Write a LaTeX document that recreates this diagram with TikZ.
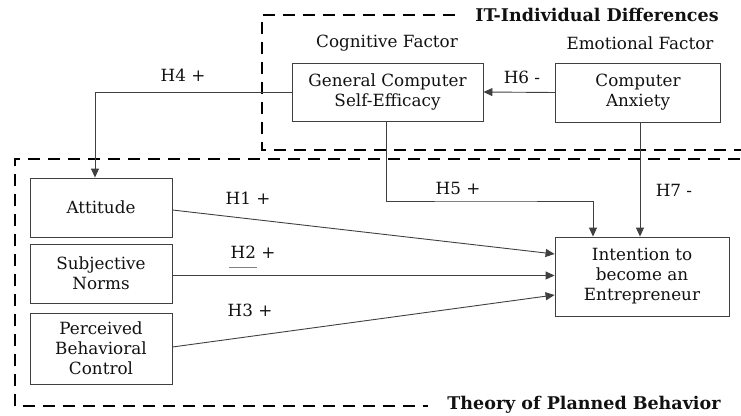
\documentclass[tikz,border=0pt]{standalone}
\usepackage{fontspec}
\setmainfont{DejaVu Serif}
\usetikzlibrary{arrows.meta}
\definecolor{ln}{HTML}{404040}
\definecolor{tx}{HTML}{111111}
\tikzset{
  box/.style={draw=ln, line width=0.9pt, align=center, text=tx, inner sep=0pt,
    font=\fontsize{16.8}{20}\selectfont},
  lbl/.style={text=tx, inner sep=0pt, font=\fontsize{16.8}{20}\selectfont},
  ttl/.style={text=tx, inner sep=0pt, font=\fontsize{17.5}{20}\selectfont\bfseries},
  conn/.style={draw=ln, line width=0.9pt},
  arr/.style={conn, -{Triangle[length=9pt,width=8pt]}},
  grp/.style={draw=black, line width=2.8pt, dash pattern=on 12pt off 8pt}
}
\begin{document}
\begin{tikzpicture}[x=1pt,y=-1pt]
\useasboundingbox (0,0) rectangle (741,415);
% group frames
\draw[grp] (455,15) -- (262,15) -- (262,150) -- (760,150);
\draw[grp] (760,159) -- (15,159) -- (15,406) -- (428,406);
\node[ttl] (itd) at (597,15) {IT-Individual Differences};
\node[ttl] (tpb) at (584,405) {Theory of Planned Behavior};
% factor labels
\node[lbl] (cog) at (387,43) {Cognitive Factor};
\node[lbl] (emo) at (640,43) {Emotional Factor};
% boxes
\node[box, minimum width=191pt, minimum height=58pt] (gcse) at (387.5,92) {General Computer\\Self-Efficacy};
\node[box, minimum width=165pt, minimum height=59pt] (ca) at (638,92.5) {Computer\\Anxiety};
\node[box, minimum width=142pt, minimum height=59pt] (att) at (101,207.5) {Attitude};
\node[box, minimum width=142pt, minimum height=59pt] (sn) at (101,273.5) {Subjective\\Norms};
\node[box, minimum width=142pt, minimum height=71pt] (pbc) at (101,348.5) {Perceived\\Behavioral\\Control};
\node[box, minimum width=174pt, minimum height=79pt] (int) at (642,276.5) {Intention to\\become an\\Entrepreneur};
% connectors
\draw[arr] (ca.west) -- (gcse.east);
\draw[arr] (gcse.west) -| ([xshift=-6pt]att.north);
\draw[arr] ([xshift=-1.5pt]gcse.south) |- (482,201) -| ([xshift=-49pt]int.north);
\draw[arr] (ca.south -| 640,0) -- (int.north -| 640,0);
\draw[arr] ([yshift=-2.5pt]att.east) -- ([yshift=22.5pt]int.west);
\draw[arr] ([yshift=-2pt]sn.east) -- ([yshift=1pt]int.west);
\draw[arr] ([yshift=1.5pt]pbc.east) -- ([yshift=-18.5pt]int.west);
% hypothesis labels
\node[lbl] (h1) at (248,198) {H1 +};
\node[lbl] (h2) at (253,252) {H2 +};
\draw[draw=gray, line width=0.8pt] (229,267) -- (257,267);
\node[lbl] (h3) at (250,310) {H3 +};
\node[lbl] (h4) at (183,75) {H4 +};
\node[lbl] (h5) at (458,188) {H5 +};
\node[lbl] (h6) at (522,77) {H6 -};
\node[lbl] (h7) at (674,190) {H7 -};
\end{tikzpicture}
\end{document}
